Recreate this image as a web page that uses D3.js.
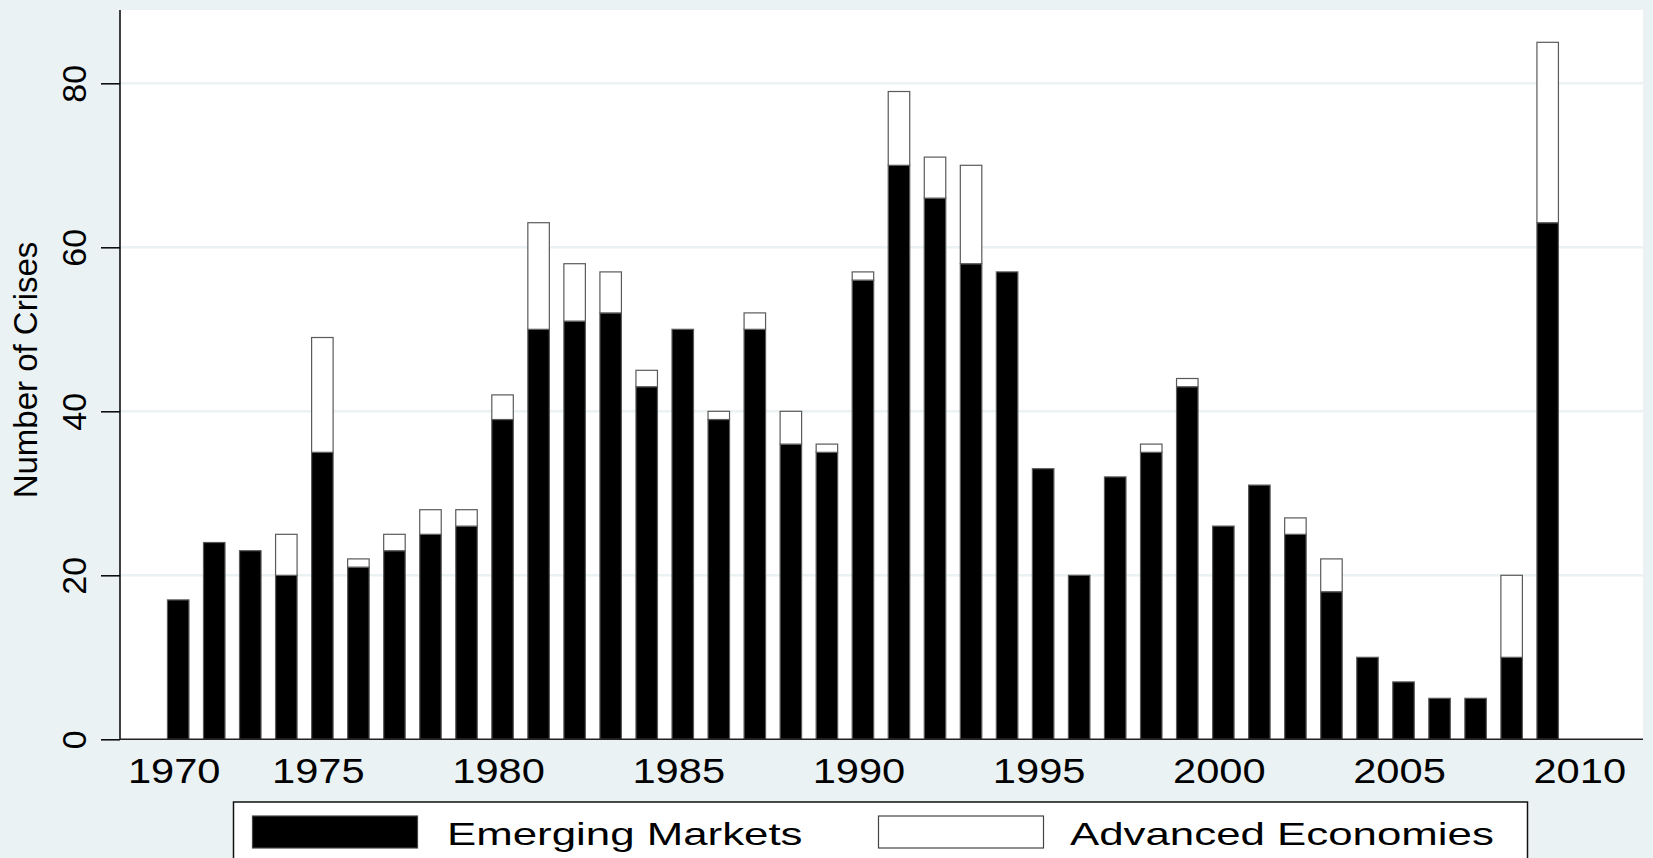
<!DOCTYPE html>
<html>
<head>
<meta charset="utf-8">
<script src="https://cdn.jsdelivr.net/npm/d3@7"></script>
<style>
  body { margin: 0; background: #eaf2f3; }
  svg { display: block; font-family: "Liberation Sans", Arial, sans-serif; }
</style>
</head>
<body>
<div id="chart"></div>
<script>
const years = [1971, 1972, 1973, 1974, 1975, 1976, 1977, 1978, 1979, 1980,
               1981, 1982, 1983, 1984, 1985, 1986, 1987, 1988, 1989, 1990,
               1991, 1992, 1993, 1994, 1995, 1996, 1997, 1998, 1999, 2000,
               2001, 2002, 2003, 2004, 2005, 2006, 2007, 2008, 2009];
const emerging = [17, 24, 23, 20, 35, 21, 23, 25, 26, 39,
                  50, 51, 52, 43, 50, 39, 50, 36, 35, 56,
                  70, 66, 58, 57, 33, 20, 32, 35, 43, 26,
                  31, 25, 18, 10, 7, 5, 5, 10, 63];
const advanced = [0, 0, 0, 5, 14, 1, 2, 3, 2, 3,
                  13, 7, 5, 2, 0, 1, 2, 4, 1, 1,
                  9, 5, 12, 0, 0, 0, 0, 1, 1, 0,
                  0, 2, 4, 0, 0, 0, 0, 10, 22];
const xTicks = [1970, 1975, 1980, 1985, 1990, 1995, 2000, 2005, 2010];
const yTicks = [0, 20, 40, 60, 80];
const seriesNames = ["Emerging Markets", "Advanced Economies"];
const seriesColors = ["#000000", "#ffffff"];

drawChart();

function drawChart() {
  const W = 1653, H = 858;
  const dims = { left: 120, right: 1643, top: 10, bottom: 739.3 };
  const bg = "#eaf2f3";

  const svg = d3.select("#chart").append("svg")
    .attr("width", W).attr("height", H);
  svg.append("rect").attr("width", W).attr("height", H).attr("fill", bg);
  svg.append("rect")
    .attr("x", dims.left).attr("y", dims.top)
    .attr("width", dims.right - dims.left).attr("height", dims.bottom - dims.top)
    .attr("fill", "#ffffff");

  // year axis: one bar per year, 36px apart
  const x = d3.scaleLinear([1969.385, 2011.645], [dims.left, dims.right]);
  const y = d3.scaleLinear([0, 88.94], [dims.bottom, dims.top]);
  const barW = 21.5;

  // gridlines
  svg.append("g").selectAll("line")
    .data(yTicks.filter(d => d > 0))
    .join("line")
      .attr("x1", dims.left).attr("x2", dims.right)
      .attr("y1", d => y(d)).attr("y2", d => y(d))
      .attr("stroke", bg).attr("stroke-width", 2.5);

  // stacked bars
  const rows = years.map((yr, i) => ({ year: yr, em: emerging[i], ae: advanced[i] }));
  const stacked = d3.stack().keys(["em", "ae"])(rows);
  svg.append("g").selectAll("g")
    .data(stacked)
    .join("g")
      .attr("fill", (d, i) => seriesColors[i])
    .selectAll("rect")
    .data(d => d.filter(s => s[1] > s[0]))
    .join("rect")
      .attr("x", d => x(d.data.year) - barW / 2)
      .attr("width", barW)
      .attr("y", d => y(d[1]))
      .attr("height", d => y(d[0]) - y(d[1]))
      .attr("stroke", "#5a5a5a").attr("stroke-width", 1.2);

  // y axis
  const yAxis = svg.append("g")
    .attr("transform", `translate(${dims.left},0)`)
    .call(d3.axisLeft(y).tickValues(yTicks).tickSize(19).tickSizeOuter(0));
  yAxis.select(".domain").remove();
  yAxis.selectAll(".tick line").attr("stroke", "#000").attr("stroke-width", 1.5);
  yAxis.selectAll(".tick text")
    .attr("x", null).attr("dy", null)
    .attr("text-anchor", "middle")
    .attr("transform", "translate(-34,0) rotate(-90)")
    .attr("font-size", 34).attr("fill", "#000");
  svg.append("line")
    .attr("x1", dims.left).attr("x2", dims.left)
    .attr("y1", dims.top).attr("y2", dims.bottom)
    .attr("stroke", "#000").attr("stroke-width", 1.5);

  // x axis line
  svg.append("line")
    .attr("x1", dims.left).attr("x2", dims.right)
    .attr("y1", dims.bottom).attr("y2", dims.bottom)
    .attr("stroke", "#222").attr("stroke-width", 1.5);

  // x labels (first label sits under the first bar)
  svg.append("g").selectAll("g")
    .data(xTicks)
    .join("g")
      .attr("transform", d => `translate(${x(Math.max(d, years[0])) - 4},783)`)
    .append("text")
      .attr("text-anchor", "middle")
      .attr("transform", "scale(1.19,1)")
      .attr("font-size", 35)
      .attr("fill", "#000")
      .text(d => d);

  // y title
  svg.append("text")
    .attr("transform", "translate(37,370) rotate(-90)")
    .attr("text-anchor", "middle")
    .attr("font-size", 33)
    .attr("fill", "#000")
    .text("Number of Crises");

  // legend
  const leg = svg.append("g");
  leg.append("rect")
    .attr("x", 233.5).attr("y", 802)
    .attr("width", 1294).attr("height", 90)
    .attr("fill", "#fff").attr("stroke", "#111").attr("stroke-width", 1.5);
  const swX = [252.5, 878.5];
  const txX = [447, 1070];
  seriesNames.forEach((name, i) => {
    leg.append("rect")
      .attr("x", swX[i]).attr("y", 816)
      .attr("width", 165).attr("height", 32)
      .attr("fill", seriesColors[i])
      .attr("stroke", "#444").attr("stroke-width", 1.2);
    leg.append("g")
      .attr("transform", `translate(${txX[i]},845)`)
      .append("text")
        .attr("transform", "scale(1.37,1)")
        .attr("font-size", 32)
        .attr("fill", "#000")
        .text(name);
  });
}
</script>
</body>
</html>
